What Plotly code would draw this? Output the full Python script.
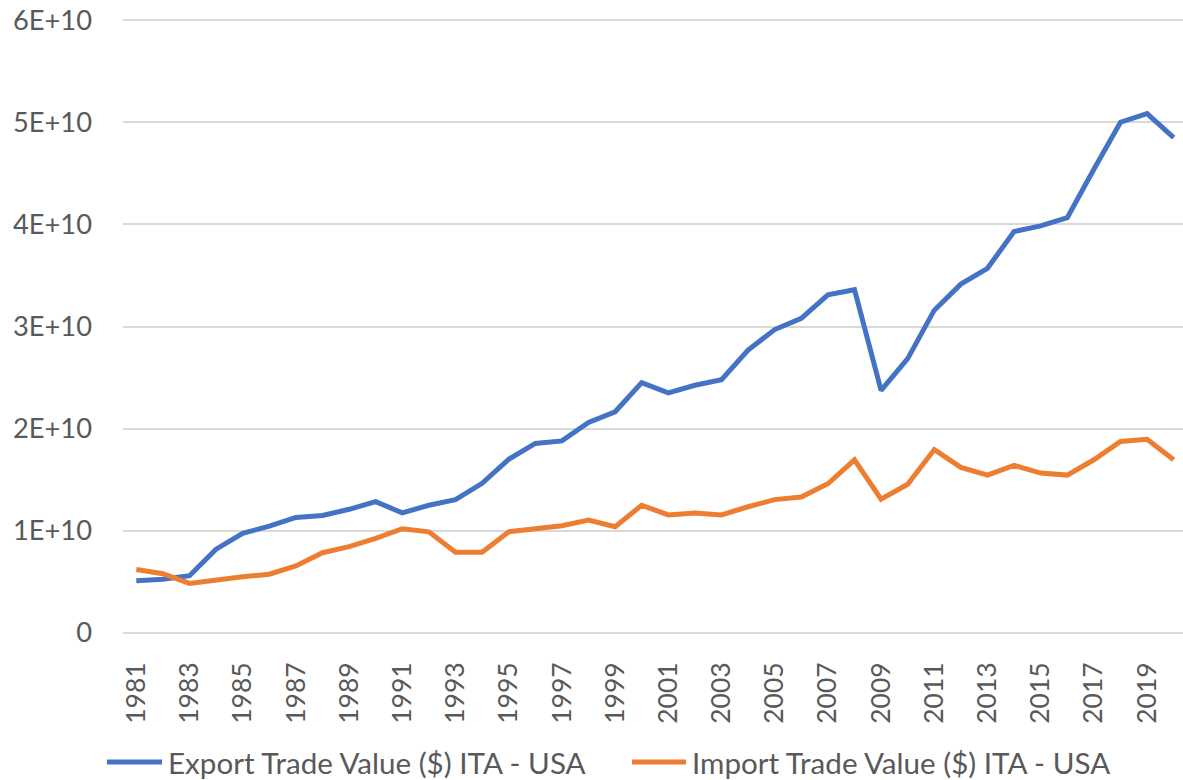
import plotly.graph_objects as go

years = list(range(1981, 2021))
export_vals = [5.1e9, 5.25e9, 5.6e9, 8.2e9, 9.75e9, 10.45e9, 11.3e9, 11.5e9, 12.1e9, 12.85e9,
               11.75e9, 12.5e9, 13.05e9, 14.65e9, 17.0e9, 18.55e9, 18.8e9, 20.6e9, 21.65e9, 24.5e9,
               23.5e9, 24.25e9, 24.8e9, 27.7e9, 29.7e9, 30.8e9, 33.1e9, 33.6e9, 23.75e9, 26.85e9,
               31.6e9, 34.15e9, 35.7e9, 39.3e9, 39.85e9, 40.65e9, 45.4e9, 50.0e9, 50.85e9, 48.5e9]
import_vals = [6.2e9, 5.8e9, 4.85e9, 5.2e9, 5.5e9, 5.75e9, 6.55e9, 7.85e9, 8.45e9, 9.25e9,
               10.2e9, 9.9e9, 7.9e9, 7.9e9, 9.9e9, 10.2e9, 10.5e9, 11.05e9, 10.4e9, 12.5e9,
               11.55e9, 11.75e9, 11.55e9, 12.35e9, 13.05e9, 13.3e9, 14.6e9, 16.95e9, 13.1e9, 14.55e9,
               17.95e9, 16.2e9, 15.45e9, 16.4e9, 15.65e9, 15.45e9, 16.95e9, 18.75e9, 18.95e9, 16.95e9]
series_names = ["Export Trade Value ($) ITA - USA", "Import Trade Value ($) ITA - USA"]
series_colors = ["#4472C4", "#ED7D31"]
y_ticks = [0, 1e10, 2e10, 3e10, 4e10, 5e10, 6e10]
y_tick_labels = ["0", "1E+10", "2E+10", "3E+10", "4E+10", "5E+10", "6E+10"]
x_ticks = list(range(1981, 2021, 2))

FONT = "Lato"
TXT = "#595959"
W, H = 1183, 780
# plot area in page coordinates (body margin removed via post_script)
P_LEFT, P_RIGHT, P_TOP, P_BOT = 123, 1183, 15, 638
ML, MR = P_LEFT, W - P_RIGHT
MT, MB = P_TOP, H - P_BOT
PW, PH = P_RIGHT - P_LEFT, P_BOT - P_TOP


def px_x(p):
    return (p - P_LEFT) / PW


def px_y(p):
    return (P_BOT - p) / PH


fig = go.Figure()
for vals, name, col in zip([export_vals, import_vals], series_names, series_colors):
    fig.add_trace(go.Scatter(x=years, y=vals, mode="lines", name=name,
                             line=dict(color=col, width=5, shape="linear"),
                             showlegend=False))

# manual legend (page coordinates)
legend_y = 762
legend_items = [(107, 162, 166), (632, 686, 690)]
shapes = []
annotations = []
for (x0, x1, tx), name, col in zip(legend_items, series_names, series_colors):
    shapes.append(dict(type="line", xref="paper", yref="paper",
                       x0=px_x(x0), x1=px_x(x1), y0=px_y(legend_y), y1=px_y(legend_y),
                       line=dict(color=col, width=5)))
    annotations.append(dict(text=name, xref="paper", yref="paper", x=px_x(tx), y=px_y(legend_y),
                            xanchor="left", yanchor="middle", showarrow=False,
                            font=dict(family=FONT, size=29.6, color=TXT)))

fig.update_layout(
    width=W, height=H,
    margin=dict(l=ML, r=MR, t=MT, b=MB, autoexpand=False),
    paper_bgcolor="white", plot_bgcolor="white",
    font=dict(family=FONT, color=TXT, size=27),
    showlegend=False,
    shapes=shapes, annotations=annotations,
    xaxis=dict(range=[1980.5, 2020.35], tickmode="array", tickvals=x_ticks,
               ticktext=[str(v) for v in x_ticks], tickangle=-90,
               showgrid=False, zeroline=False, showline=False, ticks="",
               ticklabelstandoff=18, tickfont=dict(family=FONT, size=26.5, color=TXT),
               ticklabeloverflow="allow", automargin=False),
    yaxis=dict(range=[-0.05e10, 6.05e10], tickmode="array", tickvals=y_ticks,
               ticktext=y_tick_labels,
               showgrid=True, gridcolor="#D9D9D9", gridwidth=1.5, zeroline=False,
               showline=False, ticks="", ticklabelstandoff=30,
               tickfont=dict(family=FONT, size=27.3, color=TXT),
               ticklabeloverflow="allow", automargin=False),
)

fig.write_html("out.html", config={"displayModeBar": False},
               post_script="document.body.style.margin='0';document.body.style.overflow='hidden';")
